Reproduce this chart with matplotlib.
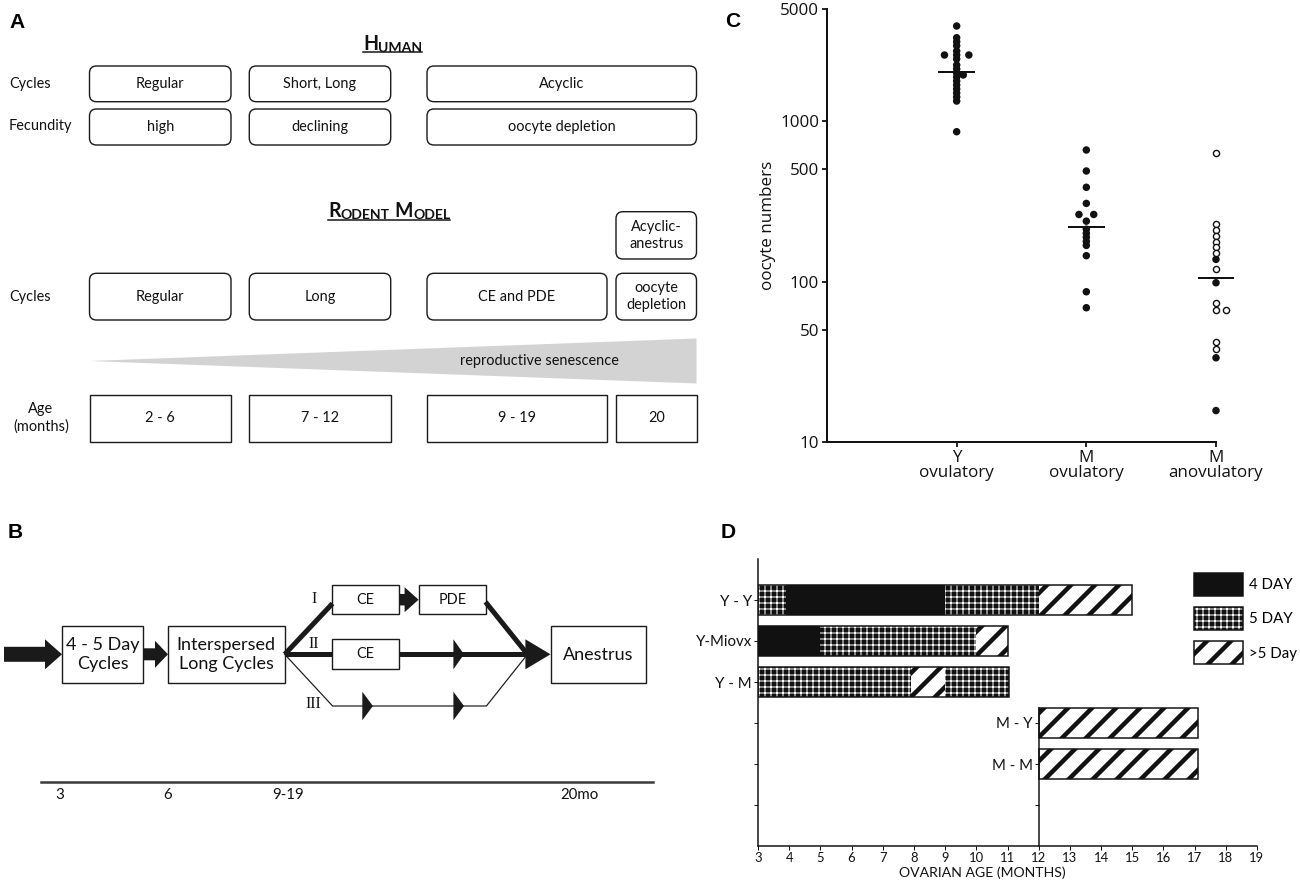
import matplotlib
matplotlib.use('Agg')
import matplotlib.pyplot as plt
from matplotlib.patches import FancyBboxPatch, Rectangle, Polygon, FancyArrow, Patch
from matplotlib.legend_handler import HandlerTuple
from matplotlib.ticker import FixedLocator, NullLocator, FixedFormatter
import numpy as np

W, H, DPI = 1300, 888, 72
SANS = ['Lato', 'DejaVu Sans']
CFONT = ['Open Sans', 'DejaVu Sans']
BOLDF = ['Liberation Sans', 'DejaVu Sans']
SERIF = ['Liberation Serif', 'DejaVu Serif']
plt.rcParams['font.family'] = SANS

# ---------------- data ----------------
# Panel A
human_title = 'Human'
rodent_title = 'Rodent Model'
human_row_labels = ['Cycles', 'Fecundity']
human_cycles = ['Regular', 'Short, Long', 'Acyclic']
human_fecundity = ['high', 'declining', 'oocyte depletion']
rodent_row_labels = ['Cycles', 'Age\n(months)']
rodent_top = 'Acyclic-\nanestrus'
rodent_cycles = ['Regular', 'Long', 'CE and PDE', 'oocyte\ndepletion']
rodent_age = ['2 - 6', '7 - 12', '9 - 19', '20']
senescence = 'reproductive senescence'

# Panel B
b_stages = ['4 - 5 Day\nCycles', 'Interspersed\nLong Cycles', 'Anestrus']
b_paths = ['I', 'II', 'III']
b_boxes = ['CE', 'PDE', 'CE']
b_ages = ['3', '6', '9-19', '20mo']

# Panel C
c_groups = ['Y\novulatory', 'M\novulatory', 'M\nanovulatory']
c_y_ovul = [3917, 3310, 3126, 2952, 2736, 2583, 2583, 2583, 2439, 2238, 2113,
            1995, 1940, 1884, 1779, 1679, 1585, 1497, 1413, 1334, 859]
c_m_ovul = [661, 489, 387, 307, 262, 262, 238, 212, 200, 189, 178, 168, 145, 86.4, 68.7]
c_m_anov = [630, 228, 209.5, 192, 177, 163.5, 151, 137.5, 119, 98.3, 73.1, 66.4, 66.4,
            41.8, 37.9, 33.5, 15.7]
c_m_anov_filled = [False, False, False, False, False, False, False, True, False, True,
                   False, False, False, False, False, True, True]
c_medians = [2015, 220, 104.7]
c_yticks = [10, 50, 100, 500, 1000, 5000]

# Panel D
d_rows = ['Y - Y', 'Y-Miovx', 'Y - M', 'M - Y', 'M - M']
d_seg_start = [[3, 3.9, 9, 12], [3, 5, 10], [3, 7.9, 9], [12], [12]]
d_seg_end = [[3.9, 9, 12, 15], [5, 10, 11], [7.9, 9, 11.05], [17.1], [17.1]]
d_seg_type = [['5 DAY', '4 DAY', '5 DAY', '>5 Day'],
              ['4 DAY', '5 DAY', '>5 Day'],
              ['5 DAY', '>5 Day', '5 DAY'],
              ['>5 Day'], ['>5 Day']]
d_types = ['4 DAY', '5 DAY', '>5 Day']
d_xticks = list(range(3, 20))
d_xlabel = 'OVARIAN AGE (MONTHS)'

# ---------------- styles ----------------
EC = '#1a1a1a'
d_styles = {
    '4 DAY': dict(fc='#111111', hc='#111111', hatch=None, hlw=1.0),
    '5 DAY': dict(fc='#111111', hc='white', hatch='++', hlw=1.0),
    '>5 Day': dict(fc='white', hc='#111111', hatch='/', hlw=4.5),
}
HLW_BY_HATCH = {st['hatch']: st['hlw'] for st in d_styles.values() if st['hatch']}

fig = plt.figure(figsize=(W / DPI, H / DPI), dpi=DPI)
ov = fig.add_axes([0, 0, 1, 1])
ov.set_xlim(0, W)
ov.set_ylim(H, 0)
ov.axis('off')


def box(x0, x1, y0, y1, text, rounded=True, fs=14.5, lw=1.4, ls=1.1):
    if rounded:
        p = FancyBboxPatch((x0, y0), x1 - x0, y1 - y0,
                           boxstyle='round,pad=0,rounding_size=7',
                           fc='white', ec=EC, lw=lw)
    else:
        p = Rectangle((x0, y0), x1 - x0, y1 - y0, fc='white', ec=EC, lw=lw)
    ov.add_patch(p)
    ov.text((x0 + x1) / 2, (y0 + y1) / 2, text, ha='center', va='center',
            fontsize=fs, linespacing=ls, color='#111')


# panel letters
for letter, lx, ly in [('A', 9, 28), ('B', 8, 538), ('C', 725, 27), ('D', 721, 538)]:
    ov.text(lx, ly, letter, fontsize=21, fontweight='bold', family=BOLDF,
            ha='left', va='baseline')


def smallcaps(x, y, title, fs_big=19.5, fs_small=14):
    texts = []
    prev = None
    for wi, word in enumerate(title.split()):
        parts = [(word[0].upper(), fs_big, 5 if wi > 0 else 0), (word[1:].upper(), fs_small, 0)]
        for s, fs, gap in parts:
            if prev is None:
                prev = ov.text(x, y, s, fontsize=fs, fontweight='bold', ha='left',
                               va='baseline', color='#111')
            else:
                prev = ov.annotate(s, xy=(1, 0), xycoords=prev, xytext=(gap, 0),
                                   textcoords='offset points', fontsize=fs,
                                   fontweight='bold', ha='left', va='bottom', color='#111')
            texts.append(prev)
    return texts


# ---------------- Panel A ----------------
hum_texts = smallcaps(363, 49.5, human_title)
rod_texts = smallcaps(328, 217, rodent_title)

hcols = [(89.5, 231), (249.3, 390.7), (427, 696.5)]
rcols = [(89.5, 231), (249.3, 390.7), (427, 607), (616, 696.5)]
for (x0, x1), t in zip(hcols, human_cycles):
    box(x0, x1, 66, 101.7, t)
for (x0, x1), t in zip(hcols, human_fecundity):
    box(x0, x1, 109, 145, t)
ov.text(9, 84, human_row_labels[0], ha='left', va='center', fontsize=14.5, color='#111')
ov.text(9, 126, human_row_labels[1], ha='left', va='center', fontsize=14.5, color='#111')

box(rcols[3][0], rcols[3][1], 211.7, 259, rodent_top, ls=1.25)
for (x0, x1), t in zip(rcols, rodent_cycles):
    box(x0, x1, 273.3, 320, t, ls=1.25)
for (x0, x1), t in zip(rcols, rodent_age):
    box(x0, x1, 395, 441.7, t, rounded=False)
ov.text(9, 297, rodent_row_labels[0], ha='left', va='center', fontsize=14.5, color='#111')
ov.text(41, 418, rodent_row_labels[1], ha='center', va='center', fontsize=14.5,
        linespacing=1.25, color='#111')

ov.add_patch(Polygon([(89.5, 361), (696.5, 338.5), (696.5, 383.5)], closed=True,
                     fc='#d3d3d3', ec='none'))
ov.text(539.5, 361, senescence, ha='center', va='center', fontsize=14.5, color='#111')

# ---------------- Panel B ----------------
BY = 654.3
ov.add_patch(FancyArrow(4, BY, 58, 0, width=15, head_width=30, head_length=17,
                        length_includes_head=True, fc='#1a1a1a', ec='none'))
box(62.3, 143.2, 625.7, 683.3, b_stages[0], rounded=False, fs=18, ls=1.25)
ov.add_patch(FancyArrow(143.2, BY, 24.8, 0, width=12, head_width=27, head_length=13,
                        length_includes_head=True, fc='#1a1a1a', ec='none'))
box(168, 284.7, 625.7, 683.3, b_stages[1], rounded=False, fs=18, ls=1.25)
box(550.8, 646, 625.7, 683.3, b_stages[2], rounded=False, fs=18)

# path I
ov.plot([284.7, 332.5], [BY, 603.5], color='#1a1a1a', lw=5, solid_capstyle='butt')
ov.plot([485.5, 527.5], [602, BY], color='#1a1a1a', lw=5, solid_capstyle='butt')
box(331.8, 399.2, 585, 614.3, b_boxes[0], rounded=False, fs=14.5)
ov.add_patch(FancyArrow(399.2, 599.7, 19.4, 0, width=11.5, head_width=25, head_length=14,
                        length_includes_head=True, fc='#1a1a1a', ec='none'))
box(418.6, 486.4, 585, 614.3, b_boxes[1], rounded=False, fs=14.5)
# path II
ov.plot([284.7, 331.8], [BY, BY], color='#1a1a1a', lw=5, solid_capstyle='butt')
ov.plot([399.2, 530], [BY, BY], color='#1a1a1a', lw=5, solid_capstyle='butt')
box(331.8, 399.2, 639.3, 669.3, b_boxes[2], rounded=False, fs=14.5)
ov.add_patch(Polygon([(453.4, 639.3), (464, BY), (453.4, 669.3)], fc='#1a1a1a', ec='none'))
ov.add_patch(Polygon([(525.4, 639.3), (550.5, BY), (525.4, 669.3)], fc='#1a1a1a', ec='none'))
# path III
ov.plot([284.7, 332.6, 486.4, 527.5], [BY, 706, 706, BY], color='#1a1a1a', lw=1.2)
for hx in (362.3, 453.4):
    ov.add_patch(Polygon([(hx, 691.7), (hx + 10.6, 706), (hx, 720.3)], fc='#1a1a1a', ec='none'))
for lab, ly in zip(b_paths, [599, 644, 704]):
    ov.text(313.6, ly, lab, ha='center', va='center', fontsize=16, family=SERIF, color='#111')
# time axis
ov.plot([41, 652.5], [782.3, 782.3], color='#3a3a3a', lw=2.5)
for lab, lx in zip(b_ages, [59.3, 167.4, 288, 579.7]):
    ov.text(lx, 795, lab, ha='center', va='center', fontsize=15, color='#111')

# ---------------- Panel C ----------------
axc = fig.add_axes([827 / W, 1 - 442 / H, (1216 - 827) / W, (442 - 9) / H])
axc.set_yscale('log')
axc.set_ylim(10, 5000)
axc.set_xlim(0, 3)
c_off_y = [0, 0, 0, 0, 0, 0, -0.094, 0.094, 0, 0, 0, 0, 0.051, 0, 0, 0, 0, 0, 0, 0, 0]
c_off_m = [0, 0, 0, 0, -0.057, 0.057, 0, 0, 0, 0, 0, 0, 0, 0, 0]
c_off_a = [0, 0, 0, 0, 0, 0, 0, 0, 0, 0, 0, 0, 0.077, 0, 0, 0, 0]
DOT = '#111111'
axc.scatter(1 + np.array(c_off_y), c_y_ovul, s=56, c=DOT, edgecolors='none', zorder=3)
axc.scatter(2 + np.array(c_off_m), c_m_ovul, s=56, c=DOT, edgecolors='none', zorder=3)
fa = np.array(c_m_anov_filled)
xa = 3 + np.array(c_off_a)
va = np.array(c_m_anov)
axc.scatter(xa[fa], va[fa], s=56, c=DOT, edgecolors='none', zorder=3, clip_on=False)
axc.scatter(xa[~fa], va[~fa], s=38, facecolors='white', edgecolors=DOT, linewidths=1.4,
            zorder=3, clip_on=False)
pos = np.arange(1, len(c_groups) + 1)
axc.hlines(c_medians, pos - 0.142, pos + 0.142, color=DOT, lw=2, zorder=4, clip_on=False)
for s in ('top', 'right'):
    axc.spines[s].set_visible(False)
for s in ('left', 'bottom'):
    axc.spines[s].set_linewidth(2)
    axc.spines[s].set_color('#111')
axc.yaxis.set_major_locator(FixedLocator(c_yticks))
axc.yaxis.set_minor_locator(NullLocator())
axc.yaxis.set_major_formatter(FixedFormatter([str(v) for v in c_yticks]))
axc.set_xticks(pos)
axc.set_xticklabels(c_groups)
axc.tick_params(direction='out', length=5, width=1.8, labelsize=17, pad=3, colors='#111')
for t in axc.get_xticklabels() + axc.get_yticklabels():
    t.set_fontfamily(CFONT)
for t in axc.get_xticklabels():
    t.set_linespacing(0.95)
axc.set_ylabel('oocyte numbers', fontsize=17, family=CFONT, labelpad=4, color='#111')
axc.patch.set_visible(False)

# ---------------- Panel D ----------------
axd = fig.add_axes([758 / W, 1 - 846 / H, (1257 - 758) / W, (846 - 559) / H])
axd.set_xlim(d_xticks[0], d_xticks[-1])
axd.set_ylim(0, len(d_rows) + 2)
row_y = np.arange(len(d_rows) + 1, 1, -1)
BAR_H = 0.73


def hatch_bars(y, lefts, widths, kind):
    st = d_styles[kind]
    plt.rcParams['hatch.linewidth'] = st['hlw']
    bars = axd.barh(y, widths, left=lefts, height=BAR_H, color=st['fc'],
                    edgecolor=st['hc'], hatch=st['hatch'], linewidth=0, zorder=2)
    for b in bars:
        if hasattr(b, 'set_hatch_linewidth'):
            b.set_hatch_linewidth(st['hlw'])
    return bars


for kind in d_types:
    ys, ls_, ws = [], [], []
    for yi, starts, ends, types in zip(row_y, d_seg_start, d_seg_end, d_seg_type):
        for s0, e0, tp in zip(starts, ends, types):
            if tp == kind:
                ys.append(yi); ls_.append(s0); ws.append(e0 - s0)
    hatch_bars(ys, ls_, ws, kind)

row_left = [min(s) for s in d_seg_start]
row_right = [max(e) for e in d_seg_end]
axd.barh(row_y, np.array(row_right) - np.array(row_left), left=row_left, height=BAR_H,
         fill=False, edgecolor='#111', linewidth=1.5, zorder=3)

x0 = d_xticks[0]
left_labels = {y: r for y, r, s in zip(row_y, d_rows, row_left) if s == x0}
inner_labels = {y: r for y, r, s in zip(row_y, d_rows, row_left) if s != x0}
yt = list(range(1, len(d_rows) + 2))
axd.set_yticks(yt)
axd.set_yticklabels([left_labels.get(t, '') for t in yt])
axd.set_xticks(d_xticks)
for s in ('top', 'right'):
    axd.spines[s].set_visible(False)
for s in ('left', 'bottom'):
    axd.spines[s].set_linewidth(1.5)
    axd.spines[s].set_color('#111')
axd.tick_params(axis='y', direction='out', length=4, width=1, labelsize=15, pad=2, colors='#111')
axd.tick_params(axis='x', direction='out', length=4, width=1, labelsize=13, pad=2, colors='#111')
axd.set_xlabel(d_xlabel, fontsize=14, color='#111')
axd.xaxis.set_label_coords(0.449, -0.07)
axd.patch.set_visible(False)

inner_x = min(s for s in row_left if s != x0)
inner_top = max(inner_labels.keys()) + BAR_H / 2
axi = axd.inset_axes([inner_x, 0, d_xticks[-1] - inner_x, inner_top], transform=axd.transData)
axi.set_ylim(0, inner_top)
axi.set_xlim(inner_x, d_xticks[-1])
axi.patch.set_visible(False)
for s in ('top', 'right', 'bottom'):
    axi.spines[s].set_visible(False)
axi.spines['left'].set_linewidth(1.5)
axi.spines['left'].set_color('#111')
it = [t for t in yt if t <= max(inner_labels.keys())]
axi.set_yticks(it)
axi.set_yticklabels([inner_labels.get(t, '') for t in it])
axi.set_xticks([])
axi.tick_params(axis='y', direction='out', length=4, width=1, labelsize=15, pad=2, colors='#111')

handles = []
for k in d_types:
    st = d_styles[k]
    hp = Patch(facecolor=st['fc'], edgecolor=st['hc'], hatch=st['hatch'], linewidth=0)
    op = Patch(facecolor='none', edgecolor='#111', linewidth=1.5)
    handles.append((hp, op))
leg = axd.legend(handles, d_types, handler_map={tuple: HandlerTuple(ndivide=1)},
                 loc='upper left', bbox_to_anchor=(1194 / W, 1 - 573 / H),
                 bbox_transform=fig.transFigure, frameon=False, fontsize=15,
                 handlelength=3.27, handleheight=2.0, labelspacing=0.73,
                 handletextpad=0.37, borderpad=0, borderaxespad=0)
for r in leg.findobj(Rectangle):
    h = r.get_hatch()
    if h in HLW_BY_HATCH and hasattr(r, 'set_hatch_linewidth'):
        r.set_hatch_linewidth(HLW_BY_HATCH[h])

# underlines for the small-caps headings
fig.canvas.draw()
inv = ov.transData.inverted()
for texts, uy in ((hum_texts, 51.5), (rod_texts, 219.5)):
    xa0 = inv.transform(texts[0].get_window_extent().p0)[0]
    xa1 = inv.transform(texts[-1].get_window_extent().p1)[0]
    ov.plot([xa0, xa1], [uy, uy], color='#111', lw=1.5)

fig.savefig('out.png', dpi=DPI)
